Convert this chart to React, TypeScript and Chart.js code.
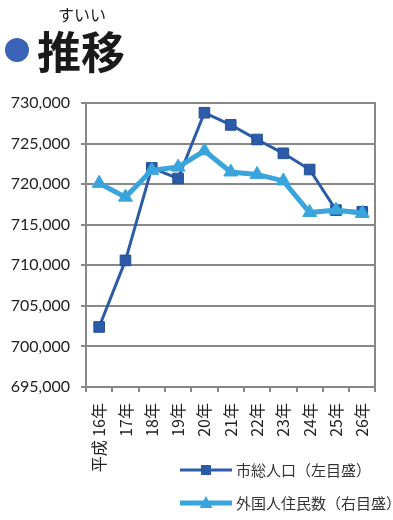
import React, { useEffect, useRef } from "react";
import { Chart, registerables } from "chart.js";

Chart.register(...registerables);

// ---- data ----
const categories = ["平成 16年", "17年", "18年", "19年", "20年", "21年", "22年", "23年", "24年", "25年", "26年"];
const totalPopulation = [702400, 710600, 722000, 720700, 728800, 727300, 725500, 723800, 721800, 716800, 716600];
const foreignResidents = [720100, 718400, 721700, 722100, 724100, 721500, 721200, 720400, 716500, 716800, 716400];
const seriesNames = ["市総人口（左目盛）", "外国人住民数（右目盛）"];
const yMin = 695000;
const yMax = 730000;
const yStep = 5000;

const DARK = "#2c5ca8";
const LIGHT = "#3aa4dc";
const GRID = "#888888";
const CJK = '"Noto Sans CJK JP", sans-serif';

const legendPlugin = {
  id: "customLegend",
  afterDraw(chart: any) {
    const ctx = chart.ctx as CanvasRenderingContext2D;
    const rows = [
      { y: 470, color: DARK, lw: 3, style: "rect", text: seriesNames[0] },
      { y: 503, color: LIGHT, lw: 5, style: "triangle", text: seriesNames[1] },
    ];
    ctx.save();
    for (const r of rows) {
      ctx.strokeStyle = r.color;
      ctx.lineWidth = r.lw;
      ctx.beginPath();
      ctx.moveTo(180, r.y);
      ctx.lineTo(232, r.y);
      ctx.stroke();
      ctx.fillStyle = r.color;
      if (r.style === "rect") {
        ctx.fillRect(201, r.y - 5, 10, 10);
      } else {
        ctx.beginPath();
        ctx.moveTo(206, r.y - 7);
        ctx.lineTo(212.5, r.y + 5);
        ctx.lineTo(199.5, r.y + 5);
        ctx.closePath();
        ctx.fill();
      }
      ctx.fillStyle = "#333";
      ctx.font = `15px ${CJK}`;
      ctx.textBaseline = "middle";
      ctx.textAlign = "left";
      ctx.fillText(r.text, 236, r.y);
    }
    ctx.restore();
  },
};

function PopulationChart() {
  const ref = useRef<HTMLCanvasElement | null>(null);
  useEffect(() => {
    if (!ref.current) return;
    const chart = new Chart(ref.current, {
      type: "line",
      data: {
        labels: categories,
        datasets: [
          {
            label: seriesNames[0],
            data: totalPopulation,
            borderColor: DARK,
            backgroundColor: DARK,
            borderWidth: 3,
            pointStyle: "rect",
            pointRadius: 7.5,
            pointBorderWidth: 1,
            pointBorderColor: "#24509a",
            pointBackgroundColor: DARK,
            yAxisID: "y",
            order: 2,
          },
          {
            label: seriesNames[1],
            data: foreignResidents,
            borderColor: LIGHT,
            backgroundColor: LIGHT,
            borderWidth: 5,
            pointStyle: "triangle",
            pointRadius: 8,
            pointBorderWidth: 1,
            pointBackgroundColor: LIGHT,
            yAxisID: "y1",
            order: 1,
          },
        ],
      },
      options: {
        responsive: false,
        animation: false,
        layout: { padding: { top: 103, left: 0, right: 11, bottom: 43 } },
        plugins: {
          legend: { display: false },
          tooltip: { enabled: false },
          title: { display: false },
        },
        scales: {
          x: {
            type: "category",
            offset: true,
            grid: {
              offset: true,
              drawOnChartArea: false,
              drawTicks: true,
              tickLength: 5,
              color: GRID,
              lineWidth: 2,
            },
            border: { display: true, color: GRID, width: 2 },
            ticks: {
              minRotation: 90,
              maxRotation: 90,
              padding: 11,
              color: "#222",
              font: { family: CJK, size: 16 },
            },
            afterFit: (scale: any) => {
              scale.height = 90;
            },
          },
          y: {
            position: "left",
            min: yMin,
            max: yMax,
            grid: { color: GRID, lineWidth: 2, tickLength: 5, drawTicks: true },
            border: { display: true, color: GRID, width: 2 },
            ticks: {
              stepSize: yStep,
              padding: 11,
              color: "#222",
              font: { family: "Lato, sans-serif", size: 16 },
              callback: (v: any) => Number(v).toLocaleString("en-US"),
            },
            afterFit: (scale: any) => {
              scale.width = 86;
            },
          },
          y1: {
            position: "right",
            min: yMin,
            max: yMax,
            grid: { drawOnChartArea: false, drawTicks: false },
            border: { display: true, color: GRID, width: 2 },
            ticks: { display: false, stepSize: yStep },
            afterFit: (scale: any) => {
              scale.width = 0;
            },
          },
        },
      },
      plugins: [legendPlugin],
    } as any);
    return () => chart.destroy();
  }, []);
  return <canvas ref={ref} width={393} height={520} style={{ position: "absolute", left: 0, top: 0 }} />;
}

export default function App() {
  return (
    <div style={{ position: "fixed", left: 0, top: 0, width: 393, height: 520, background: "#fff", overflow: "hidden" }}>
      <PopulationChart />
      <div
        style={{
          position: "absolute",
          left: 5,
          top: 38,
          width: 24,
          height: 24,
          borderRadius: "50%",
          background: "#3b63b8",
        }}
      />
      <div
        style={{
          position: "absolute",
          left: 37,
          top: 28,
          fontFamily: CJK,
          fontWeight: 700,
          fontSize: 44,
          lineHeight: "44px",
          color: "#1a1a1a",
          whiteSpace: "nowrap",
        }}
      >
        推移
      </div>
      <div
        style={{
          position: "absolute",
          left: 58,
          top: 4,
          fontFamily: CJK,
          fontSize: 16,
          lineHeight: "20px",
          color: "#1a1a1a",
          whiteSpace: "nowrap",
        }}
      >
        すいい
      </div>
    </div>
  );
}
